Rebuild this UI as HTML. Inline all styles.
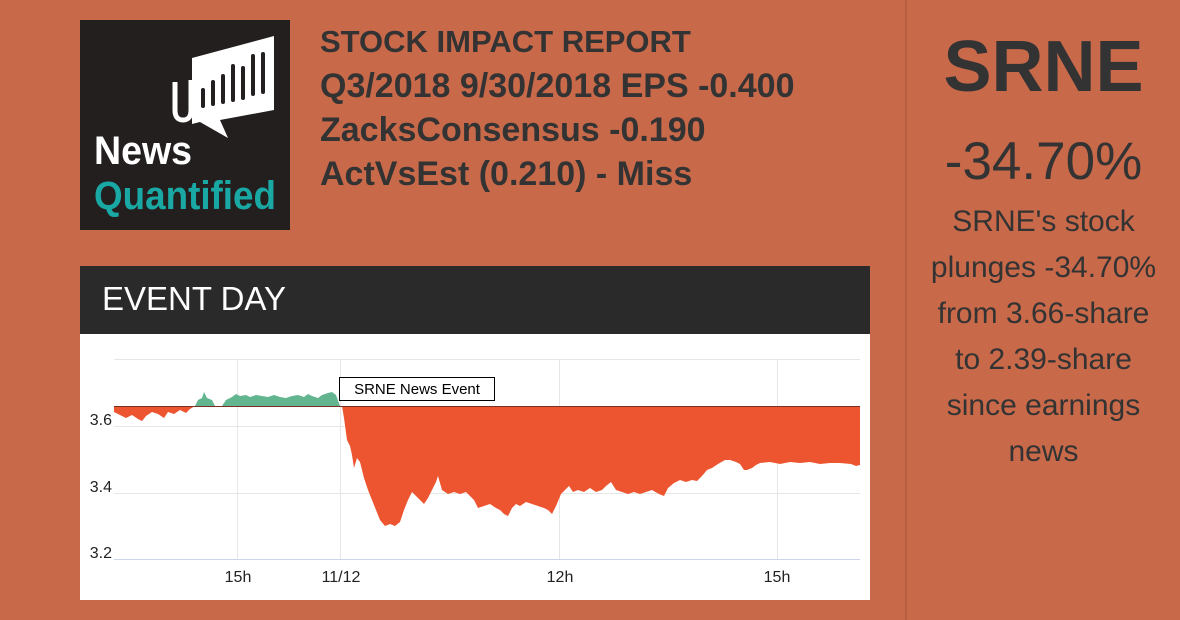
<!DOCTYPE html>
<html><head><meta charset="utf-8"><style>
*{margin:0;padding:0;box-sizing:border-box}
body{width:1180px;height:620px;background:#C8694A;position:relative;overflow:hidden;font-family:"Liberation Sans",Arial,sans-serif}
.sep{position:absolute;left:905px;top:0;width:2px;height:620px;background:#B85E40}
.logo{position:absolute;left:80px;top:20px;width:210px;height:210px;background:#231f1f}
.hdr{position:absolute;left:320px;top:20px;color:#333;font-weight:bold;font-size:34px;line-height:44px;white-space:nowrap}
.hdr div:first-child{font-size:31px}
.right{position:absolute;left:907px;width:273px;text-align:center;color:#333;white-space:nowrap}
.ev{position:absolute;left:80px;top:266px;width:790px;height:68px;background:#2a2a2a;color:#fff;font-size:33px;padding:14px 0 0 22px}
.chart{position:absolute;left:80px;top:334px;width:790px;height:266px;background:#fff}
</style></head><body>
<div class="sep"></div>
<div class="logo">
<svg width="210" height="210" viewBox="0 0 210 210">
<path d="M112 38 L194 16 L194 90 L140 100 L148 118 L120 102 L112 104 Z" fill="#fff"/>
<path d="M95 62 L95 90 Q95 100 103 100 Q111 100 111 90 L111 60" fill="none" stroke="#fff" stroke-width="5"/>
<g stroke="#231f1f" stroke-width="4" stroke-linecap="round">
<line x1="123" y1="70" x2="123" y2="86"/><line x1="133" y1="62" x2="133" y2="84"/><line x1="143" y1="56" x2="143" y2="82"/><line x1="153" y1="46" x2="153" y2="80"/><line x1="163" y1="48" x2="163" y2="78"/><line x1="173" y1="36" x2="173" y2="74"/><line x1="183" y1="34" x2="183" y2="72"/>
</g>
<text x="14" y="144" fill="#fff" font-family="Liberation Sans" font-weight="bold" font-size="40" textLength="98" lengthAdjust="spacingAndGlyphs">News</text>
<text x="14" y="189" fill="#19a8a4" font-family="Liberation Sans" font-weight="bold" font-size="40" textLength="182" lengthAdjust="spacingAndGlyphs">Quantified</text>
</svg></div>
<div class="hdr"><div>STOCK IMPACT REPORT</div><div>Q3/2018 9/30/2018 EPS -0.400</div><div>ZacksConsensus -0.190</div><div>ActVsEst (0.210) - Miss</div></div>
<div class="right" style="top:26px;font-size:72px;font-weight:bold">SRNE</div>
<div class="right" style="top:131px;font-size:53px">-34.70%</div>
<div class="right" style="top:199px;font-size:30px;line-height:46px">SRNE's stock<br>plunges -34.70%<br>from 3.66-share<br>to 2.39-share<br>since earnings<br>news</div>
<div class="ev">EVENT DAY</div>
<div class="chart"></div>
<svg style="position:absolute;left:0;top:0" width="1180" height="620">
<g stroke="#e6e6e6" stroke-width="1">
<line x1="114" y1="359.5" x2="860" y2="359.5"/><line x1="114" y1="426.5" x2="860" y2="426.5"/><line x1="114" y1="493.5" x2="860" y2="493.5"/>
<line x1="237.5" y1="359" x2="237.5" y2="559"/><line x1="340.5" y1="359" x2="340.5" y2="559"/><line x1="559.5" y1="359" x2="559.5" y2="559"/><line x1="777.5" y1="359" x2="777.5" y2="559"/>
</g>
<line x1="114" y1="559.5" x2="860" y2="559.5" stroke="#ccd6eb"/>
<path fill="#62b58f" d="M195 406 L198 400 L202 398 L204 392 L207 398 L212 400 L215 406 L222 406 L226 400 L232 397 L236 394 L240 396 L246 395 L250 397 L256 395 L262 396 L268 397 L274 395 L280 397 L286 398 L292 396 L298 395 L304 397 L308 394 L312 396 L318 398 L322 395 L328 393 L332 392 L336 395 L340 406 Z"/>
<path fill="#ec5530" d="M114 406 L114 412 L120 415 L126 418 L132 415 L138 419 L142 421 L146 416 L152 412 L158 414 L164 418 L168 412 L174 414 L180 410 L186 413 L190 409 L195 406 Z"/>
<path fill="#ec5530" d="M342 406 L344 418 L347 440 L350 446 L352 455 L354 468 L357 458 L360 462 L364 478 L368 490 L372 500 L376 510 L380 520 L385 526 L390 524 L395 526 L400 522 L404 510 L408 500 L412 492 L416 496 L420 500 L424 504 L428 498 L432 490 L436 482 L438 476 L442 490 L448 494 L454 492 L460 494 L466 492 L470 496 L474 500 L478 508 L484 506 L490 504 L496 508 L500 510 L504 514 L508 516 L512 508 L516 504 L520 506 L526 502 L532 504 L538 506 L544 508 L548 510 L552 514 L556 506 L561 494 L565 490 L569 486 L573 492 L578 490 L584 492 L590 488 L596 492 L602 490 L606 486 L611 482 L616 490 L622 492 L628 494 L634 492 L640 494 L646 492 L652 490 L659 494 L664 496 L668 488 L674 483 L680 480 L686 482 L692 480 L697 481 L702 476 L707 470 L712 468 L718 464 L725 460 L730 460 L736 462 L740 464 L744 470 L747 470 L752 468 L756 465 L760 463 L770 462 L780 464 L790 462 L800 463 L810 462 L820 464 L830 463 L840 463 L851 464 L856 466 L860 465 L860 406 Z"/>
<line x1="114" y1="406.5" x2="860" y2="406.5" stroke="#7a3020" stroke-width="1"/>
<rect x="339.5" y="377.5" width="155" height="23" fill="#fff" stroke="#000"/>
<text x="417" y="394" text-anchor="middle" font-family="Liberation Sans" font-size="15" fill="#000">SRNE News Event</text>
<g font-family="Liberation Sans" font-size="16" fill="#222">
<text x="112" y="425" text-anchor="end">3.6</text><text x="112" y="492" text-anchor="end">3.4</text><text x="112" y="558" text-anchor="end">3.2</text>
<text x="238" y="582" text-anchor="middle">15h</text><text x="341" y="582" text-anchor="middle">11/12</text><text x="560" y="582" text-anchor="middle">12h</text><text x="777" y="582" text-anchor="middle">15h</text>
</g>
</svg>
</body></html>
